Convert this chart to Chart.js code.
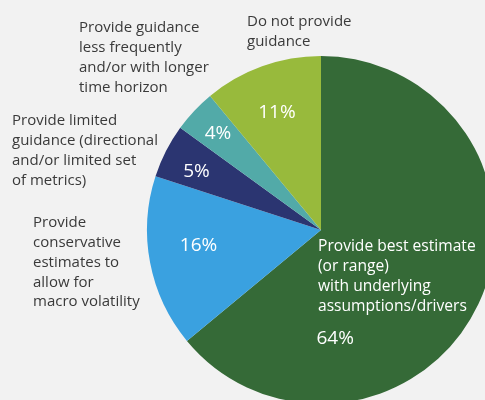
<!DOCTYPE html>
<html>
<head>
<meta charset="utf-8">
<script src="https://cdn.jsdelivr.net/npm/chart.js@4"></script>
<style>
  html, body { margin: 0; padding: 0; background: #f2f2f2; overflow: hidden; width: 485px; height: 400px; }
  #wrap { position: absolute; left: 0; top: 0; width: 520px; height: 420px; }
</style>
</head>
<body>
<div id="wrap"><canvas id="c" width="520" height="420"></canvas></div>
<script>
// Data
const categories = [
  "Provide best estimate (or range) with underlying assumptions/drivers",
  "Provide conservative estimates to allow for macro volatility",
  "Provide limited guidance (directional and/or limited set of metrics)",
  "Provide guidance less frequently and/or with longer time horizon",
  "Do not provide guidance"
];
const shares = [64, 16, 5, 4, 11];
const colors = ["#356a37", "#3aa1e0", "#2b3571", "#52aaa8", "#98ba3c"];

// Label text (lines) and where they sit
const labelLines = [
  ["Provide best estimate", "(or range)", "with underlying", "assumptions/drivers"],
  ["Provide", "conservative", "estimates to", "allow for", "macro volatility"],
  ["Provide limited", "guidance (directional", "and/or limited set", "of metrics)"],
  ["Provide guidance", "less frequently", "and/or with longer", "time horizon"],
  ["Do not provide", "guidance"]
];
// [x, firstLineY, colour, fontSize] for the category labels
const labelLayout = [
  [318, 247, "#ffffff", 15.6],
  [33, 223, "#3a3a3a", 15],
  [12, 121, "#3a3a3a", 15],
  [79, 28, "#3a3a3a", 15],
  [247, 22, "#3a3a3a", 15]
];
// percentage label placement: [angle from top clockwise (deg), fraction of radius]
const pctLayout = [[172.6, 0.63], [262.6, 0.71], [295, 0.79], [313, 0.81], [339.4, 0.72]];

const labelPlugin = {
  id: 'labels',
  afterDatasetsDraw(chart) {
    const ctx = chart.ctx;
    const meta = chart.getDatasetMeta(0);
    const arc0 = meta.data[0];
    const cx = arc0.x, cy = arc0.y, r = arc0.outerRadius;
    ctx.save();
    ctx.textBaseline = 'middle';
    ctx.textAlign = 'left';
    labelLines.forEach((lines, i) => {
      const [x, y0, col, fs] = labelLayout[i];
      ctx.font = '400 ' + fs + 'px "Open Sans"';
      ctx.fillStyle = col;
      lines.forEach((t, j) => ctx.fillText(t, x, y0 + j * 19.8));
    });
    // percentages
    ctx.font = '400 19px "Open Sans"';
    ctx.fillStyle = '#ffffff';
    ctx.textAlign = 'center';
    shares.forEach((v, i) => {
      const a = pctLayout[i][0] * Math.PI / 180;
      const d = pctLayout[i][1] * r;
      ctx.fillText(v + '%', cx + d * Math.sin(a), cy - d * Math.cos(a));
    });
    ctx.restore();
  }
};

new Chart(document.getElementById('c'), {
  type: 'pie',
  data: {
    labels: categories,
    datasets: [{ data: shares, backgroundColor: colors, borderWidth: 0 }]
  },
  options: {
    responsive: false,
    animation: false,
    layout: { padding: { left: 147, top: 56, right: 25, bottom: 16 } },
    plugins: { legend: { display: false }, tooltip: { enabled: false } }
  },
  plugins: [labelPlugin]
});
</script>
</body>
</html>
